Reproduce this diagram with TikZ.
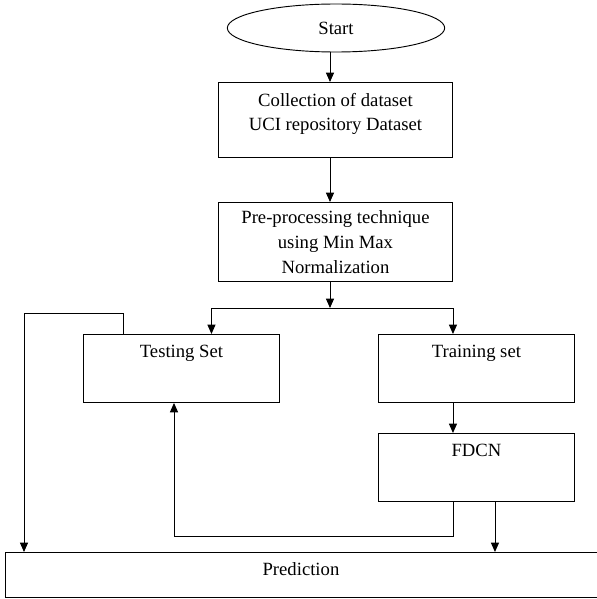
\documentclass[tikz,border=0pt]{standalone}
\usepackage{fontspec}
\setmainfont{Liberation Serif}
\usetikzlibrary{arrows.meta,positioning,shapes.geometric,calc}

\begin{document}
\begin{tikzpicture}[x=0.75pt, y=-0.75pt,
  every node/.style={font=\fontsize{14}{18.5}\selectfont},
  flowbox/.style={draw, line width=0.7pt, rectangle, anchor=north west, inner sep=0pt},
  boxtext/.style={anchor=north, inner sep=0pt, yshift=-8pt, align=center},
  flowarrow/.style={-{Triangle[length=7pt, width=6pt]}, line width=0.7pt}]

\useasboundingbox (0,0) rectangle (596,599);

% Main flow
\node[draw, line width=0.7pt, ellipse, minimum width=163pt, minimum height=36pt,
  inner sep=0pt] (start) at (336,28) {Start};

\node[flowbox, minimum width=175.5pt, minimum height=56.25pt,
  label={[boxtext]north:Collection of dataset\\UCI repository Dataset}]
  (collect) at (218,82) {};

\node[flowbox, minimum width=175.5pt, minimum height=59.25pt,
  label={[boxtext, yshift=1.5pt]north:Pre-processing technique\\using Min Max\\Normalization}]
  (prep) at (218,202) {};

\node[flowbox, minimum width=147pt, minimum height=51pt,
  label={[boxtext]north:Testing Set}] (test) at (83,334) {};

\node[flowbox, minimum width=147pt, minimum height=51pt,
  label={[boxtext]north:Training set}] (train) at (378,334) {};

\node[flowbox, minimum width=147pt, minimum height=51pt,
  label={[boxtext]north:FDCN}] (fdcn) at (378,433) {};

\node[flowbox, minimum width=446.25pt, minimum height=33.75pt,
  label={[boxtext, yshift=0.5pt, xshift=-1.5pt]north:Prediction}] (pred) at (5,552) {};

\coordinate (split) at (330,308);
\coordinate (fdcnout) at ($(fdcn.south)+(18.5,0)$);

\draw[flowarrow] (start.south -| split) -- (collect.north -| split);
\draw[flowarrow] (collect.south -| split) -- (prep.north -| split);
\draw[flowarrow] (prep.south -| split) -- (split);
\draw[flowarrow] (split) -| ($(test.north)+(30,0)$);
\draw[flowarrow] (split) -| ($(train.north)+(-23.5,0)$);
\draw[flowarrow] ($(train.south)+(-23.5,0)$) -- ($(fdcn.north)+(-23.5,0)$);

% Loops back
\draw[flowarrow] ($(test.north west)+(40,0)$) -- ++(0,-21) -| ($(pred.north west)+(19,0)$);
\draw[flowarrow] ($(fdcn.south)+(-23.5,0)$) -- ++(0,35) -| ($(test.south west)+(91,0)$);
\draw[flowarrow] (fdcnout) -- (fdcnout |- pred.north);

\end{tikzpicture}
\end{document}
